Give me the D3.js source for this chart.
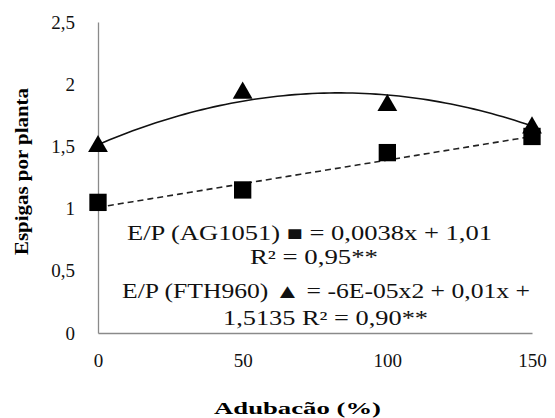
<!DOCTYPE html>
<html>
<head>
<meta charset="utf-8">
<script src="https://cdn.jsdelivr.net/npm/d3@7"></script>
<style>
  svg text { font-family: Tinos, 'Liberation Serif', 'Times New Roman', serif !important; }
</style>
</head>
<body style="margin:0;background:#fff">
<svg id="fig" width="555" height="418"></svg>
<script>
const doses = [0, 50, 100, 150];
const ag1051 = [1.05, 1.15, 1.45, 1.58];
const fth960 = [1.50, 1.93, 1.83, 1.65];
const yTicks = [0, 0.5, 1, 1.5, 2, 2.5];
const xTicks = [0, 50, 100, 150];
const linCoef = [1.01, 0.0038];             // a + b x
const quadCoef = [1.5135, 0.01, -0.00006];  // a + b x + c x^2
const eqLines = [
  "E/P (AG1051) \u25A0 = 0,0038x + 1,01",
  "R\u00B2 = 0,95**",
  "E/P (FTH960) \u25B2 = -6E-05x2 + 0,01x +",
  "1,5135 R\u00B2 = 0,90**"
];

const SERIF = "Tinos, 'Liberation Serif', 'Times New Roman', serif";
const svg = d3.select("#fig");
const x = d3.scaleLinear().domain([0, 150]).range([98, 532]);
const y = d3.scaleLinear().domain([0, 2.5]).range([333, 22]);
const fmt = d => String(d).replace(".", ",");

// axes
const xAxis = svg.append("g").attr("transform", `translate(0,${y(0)})`)
  .call(d3.axisBottom(x).tickValues(xTicks).tickSize(0).tickPadding(20).tickFormat(d => d));
const yAxis = svg.append("g").attr("transform", `translate(${x(0)},0)`)
  .call(d3.axisLeft(y).tickValues(yTicks).tickSize(0).tickPadding(23).tickFormat(fmt));
[xAxis, yAxis].forEach(a => {
  a.attr("font-family", SERIF).attr("font-size", null);
  a.select(".domain").attr("stroke", "#8a8a8a").attr("stroke-width", 1.3);
  a.selectAll("text").attr("font-size", 19).attr("fill", "#111")
    .attr("font-family", SERIF)
    .style("font-family", SERIF, "important");
  a.selectAll(".tick").attr("class", "tk");
});
xAxis.selectAll("text").attr("dy", "0.75em");

// trendlines
const xs = d3.range(0, 150.01, 2);
const lin = d3.line().x(d => x(d)).y(d => y(linCoef[0] + linCoef[1] * d));
const quad = d3.line().x(d => x(d)).y(d => y(quadCoef[0] + quadCoef[1] * d + quadCoef[2] * d * d));
svg.append("path").attr("d", lin(xs)).attr("fill", "none").attr("stroke", "#222")
  .attr("stroke-width", 1.6).attr("stroke-dasharray", "6,4");
svg.append("path").attr("d", quad(xs)).attr("fill", "none").attr("stroke", "#111")
  .attr("stroke-width", 1.6);

// markers
const sq = d3.symbol().type(d3.symbolSquare).size(300);
const tri = d3.symbol().type(d3.symbolTriangle).size(170);
svg.selectAll(".tri").data(doses).join("path").attr("class", "tri")
  .attr("d", tri).attr("fill", "#000")
  .attr("transform", (d, i) => `translate(${x(d)},${y(fth960[i])})`);
svg.selectAll(".sq").data(doses).join("path").attr("class", "sq")
  .attr("d", sq).attr("fill", "#000")
  .attr("transform", (d, i) => `translate(${x(d)},${y(ag1051[i])})`);

// equations (start x, baseline y, target width)
const eqPos = [[127, 240, 365], [250, 264, 128], [122, 298, 408], [223, 325, 205]];
svg.selectAll(".eq").data(eqLines).join("text").attr("class", "eq")
  .attr("x", (d, i) => eqPos[i][0]).attr("y", (d, i) => eqPos[i][1])
  .attr("font-size", 20).attr("fill", "#111")
  .style("font-family", SERIF, "important")
  .attr("textLength", (d, i) => eqPos[i][2]).attr("lengthAdjust", "spacingAndGlyphs")
  .text(d => d);

// axis titles
svg.append("text").attr("x", 214).attr("y", 414)
  .attr("font-size", 17).attr("font-weight", "bold")
  .style("font-family", SERIF, "important")
  .attr("textLength", 167).attr("lengthAdjust", "spacingAndGlyphs")
  .text("Adubacão (%)");
svg.append("text").attr("transform", "translate(28,255) rotate(-90)")
  .attr("font-size", 18).attr("font-weight", "bold")
  .style("font-family", SERIF, "important")
  .attr("textLength", 167).attr("lengthAdjust", "spacingAndGlyphs")
  .text("Espigas por planta");
</script>
</body>
</html>
